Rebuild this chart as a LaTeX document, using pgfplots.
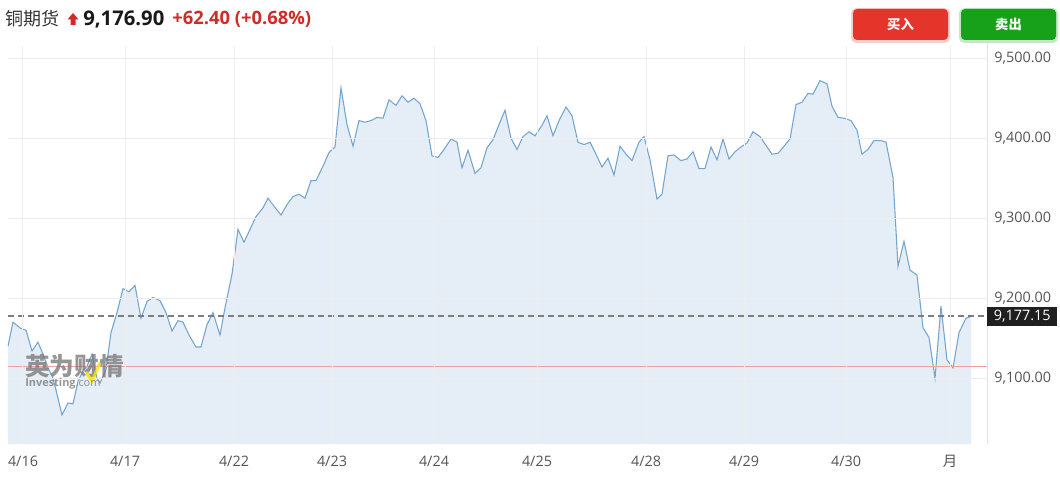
\documentclass[border=0pt]{standalone}
\usepackage{pgfplots}
\pgfplotsset{compat=1.18}
\usepackage{fontspec}
\setmainfont{Open Sans}
\newfontfamily\cjk{Noto Sans CJK SC}
\definecolor{linec}{RGB}{115,165,208}
\definecolor{fillc}{RGB}{229,237,246}
\definecolor{gridc}{RGB}{238,238,238}
\definecolor{tickc}{RGB}{85,85,85}
\definecolor{refred}{RGB}{240,160,160}
\definecolor{dashc}{RGB}{125,125,125}
\definecolor{upred}{RGB}{214,40,40}
\definecolor{chgred}{RGB}{205,45,40}
\definecolor{btnred}{RGB}{229,53,43}
\definecolor{btngreen}{RGB}{23,160,26}
\definecolor{titlec}{RGB}{51,51,51}
\definecolor{axisc}{RGB}{225,225,225}
\begin{document}
\begin{tikzpicture}[x=0.75pt,y=0.75pt]
\useasboundingbox (0,0) rectangle (1060,489);
\fill[white] (0,0) rectangle (1060,489);
\begin{axis}[
  at={(8,56)}, anchor=south west, scale only axis,
  width=734.25pt, height=298.5pt,
  xmin=8, xmax=987, ymin=9017.5, ymax=9515,
  axis line style={draw=none},
  axis on top,
  clip mode=individual,
  xtick={23,125,234,332,434,537,646,744,846,950},
  xticklabels={4/16,4/17,4/22,4/23,4/24,4/25,4/28,4/29,4/30,{\cjk 月}},
  ytick={9100,9200,9300,9400,9500},
  yticklabel pos=right,
  grid=major,
  grid style={color=gridc, line width=0.75pt},
  major tick length=0pt,
  tick style={draw=none},
  xticklabel style={font=\fontsize{10.8}{12}\selectfont, text=tickc, anchor=center, yshift=-12.75pt},
  yticklabel style={font=\fontsize{10.8}{12}\selectfont, text=tickc, anchor=west, inner sep=0pt, xshift=5.25pt},
  /pgf/number format/fixed,
  /pgf/number format/fixed zerofill,
  /pgf/number format/precision=2,
  /pgf/number format/1000 sep={,},
  /pgf/number format/assume math mode=true,
]
\addplot[fill=fillc, draw=none] coordinates {
(8,9017.5)
(8,9140) (13,9170) (21,9162) (26,9160) (32,9134) (38,9145) (43,9130) (48,9113) (53,9100) (57,9080)
(62,9054) (68,9069) (73,9068) (78,9096) (83,9109) (87,9115) (92,9130) (97,9100) (100,9094) (106,9111)
(111,9157) (117,9182) (123,9212) (129,9208) (135,9216) (141,9175) (147,9196) (153,9201) (160,9197) (166,9182)
(172,9159) (178,9172) (183,9170) (189,9154) (196,9139) (201,9139) (207,9167) (213,9182) (220,9154) (225,9188)
(232,9230) (238,9286) (244,9270) (250,9286) (256,9302) (263,9313) (268,9325) (274,9315) (281,9304) (287,9317)
(293,9327) (299,9330) (305,9325) (311,9347) (316,9347) (323,9365) (329,9382) (335,9389) (341,9463) (347,9417)
(353,9390) (359,9422) (365,9420) (371,9422) (377,9426) (383,9425) (389,9448) (396,9441) (402,9453) (408,9445)
(414,9450) (420,9443) (426,9422) (432,9378) (438,9376) (443,9384) (451,9399) (457,9395) (462,9363) (468,9385)
(475,9356) (481,9363) (487,9388) (493,9398) (499,9417) (505,9435) (511,9400) (517,9386) (523,9402) (529,9408)
(535,9403) (542,9416) (547,9428) (553,9403) (559,9422) (566,9439) (572,9428) (578,9395) (584,9392) (590,9395)
(596,9380) (602,9364) (608,9375) (614,9354) (620,9390) (626,9380) (632,9372) (639,9395) (644,9402) (650,9373)
(657,9324) (662,9330) (668,9378) (674,9379) (681,9372) (687,9374) (693,9383) (699,9362) (705,9362) (711,9389)
(717,9373) (723,9399) (729,9374) (735,9383) (741,9389) (747,9394) (753,9408) (760,9402) (766,9391) (772,9380)
(778,9381) (784,9390) (790,9399) (796,9442) (802,9445) (808,9456) (813,9455) (820,9472) (827,9468) (832,9440)
(838,9426) (844,9425) (851,9422) (857,9410) (862,9380) (868,9386) (874,9397) (881,9397) (886,9395) (893,9351)
(898,9240) (904,9271) (910,9235) (917,9229) (923,9163) (929,9151) (935,9100) (941,9190) (947,9123) (953,9113)
(959,9157) (966,9175) (971,9177.15)
(971,9017.5)
} -- cycle;
\addplot[color=linec, line width=0.8pt, mark=none] coordinates {
(8,9140) (13,9170) (21,9162) (26,9160) (32,9134) (38,9145) (43,9130) (48,9113) (53,9100) (57,9080)
(62,9054) (68,9069) (73,9068) (78,9096) (83,9109) (87,9115) (92,9130) (97,9100) (100,9094) (106,9111)
(111,9157) (117,9182) (123,9212) (129,9208) (135,9216) (141,9175) (147,9196) (153,9201) (160,9197) (166,9182)
(172,9159) (178,9172) (183,9170) (189,9154) (196,9139) (201,9139) (207,9167) (213,9182) (220,9154) (225,9188)
(232,9230) (238,9286) (244,9270) (250,9286) (256,9302) (263,9313) (268,9325) (274,9315) (281,9304) (287,9317)
(293,9327) (299,9330) (305,9325) (311,9347) (316,9347) (323,9365) (329,9382) (335,9389) (341,9463) (347,9417)
(353,9390) (359,9422) (365,9420) (371,9422) (377,9426) (383,9425) (389,9448) (396,9441) (402,9453) (408,9445)
(414,9450) (420,9443) (426,9422) (432,9378) (438,9376) (443,9384) (451,9399) (457,9395) (462,9363) (468,9385)
(475,9356) (481,9363) (487,9388) (493,9398) (499,9417) (505,9435) (511,9400) (517,9386) (523,9402) (529,9408)
(535,9403) (542,9416) (547,9428) (553,9403) (559,9422) (566,9439) (572,9428) (578,9395) (584,9392) (590,9395)
(596,9380) (602,9364) (608,9375) (614,9354) (620,9390) (626,9380) (632,9372) (639,9395) (644,9402) (650,9373)
(657,9324) (662,9330) (668,9378) (674,9379) (681,9372) (687,9374) (693,9383) (699,9362) (705,9362) (711,9389)
(717,9373) (723,9399) (729,9374) (735,9383) (741,9389) (747,9394) (753,9408) (760,9402) (766,9391) (772,9380)
(778,9381) (784,9390) (790,9399) (796,9442) (802,9445) (808,9456) (813,9455) (820,9472) (827,9468) (832,9440)
(838,9426) (844,9425) (851,9422) (857,9410) (862,9380) (868,9386) (874,9397) (881,9397) (886,9395) (893,9351)
(898,9240) (904,9271) (910,9235) (917,9229) (923,9163) (929,9151) (935,9100) (941,9190) (947,9123) (953,9113)
(959,9157) (966,9175) (971,9177.15)
};
\draw[refred, line width=0.75pt] (axis cs:8,9114.5) -- (axis cs:987,9114.5);
\draw[dashc, line width=1.5pt, dash pattern=on 4.5pt off 3pt] (axis cs:8,9177.15) -- (axis cs:985,9177.15);
\draw[axisc, line width=0.75pt] (rel axis cs:1,0) -- (rel axis cs:1,1.03);
\node[fill=black!88, text=white, anchor=west, minimum width=52.5pt, minimum height=14.25pt, inner sep=0pt,
  font=\fontsize{10.8}{12}\selectfont] at (axis cs:987,9177.15) {9,177.15};
\end{axis}
% watermark
\node[anchor=north west, inner sep=0pt, text=black!55, opacity=0.75, font=\cjk\bfseries\fontsize{18.5}{20}\selectfont] at (25,135) {英为财情};
\draw[yellow!85!orange, opacity=0.8, line width=2.2pt] (86,117) -- (92,108) -- (100,126);
\node[anchor=north west, inner sep=0pt, text=black!55, opacity=0.75, font=\fontsize{8.2}{9}\selectfont] at (25,111) {\textbf{Investing}.com};
% title
\node[anchor=west, inner sep=0pt, text=titlec, font=\cjk\fontsize{13.5}{16}\selectfont] at (5,470) {铜期货};
\fill[upred] (73,476) -- (78.5,469.5) -- (75.5,469.5) -- (75.5,464) -- (70.5,464) -- (70.5,469.5) -- (67.5,469.5) -- cycle;
\node[anchor=west, inner sep=0pt, text=black!90, font=\bfseries\fontsize{15.2}{18}\selectfont] at (83,470) {9,176.90};
\node[anchor=west, inner sep=0pt, text=chgred, font=\bfseries\fontsize{13.8}{16}\selectfont] at (172,470) {+62.40 (+0.68\%)};
% buttons
\fill[btnred!25, rounded corners=4pt] (851,446) rectangle (950,481);
\fill[btnred, rounded corners=3pt] (853,449) rectangle (948,480);
\node[text=white, font=\cjk\bfseries\fontsize{10}{12}\selectfont] at (900.5,464.5) {买入};
\fill[btngreen!25, rounded corners=4pt] (959,446) rectangle (1058,481);
\fill[btngreen, rounded corners=3pt] (961,449) rectangle (1056,480);
\node[text=white, font=\cjk\bfseries\fontsize{10}{12}\selectfont] at (1008.5,464.5) {卖出};
\end{tikzpicture}
\end{document}
